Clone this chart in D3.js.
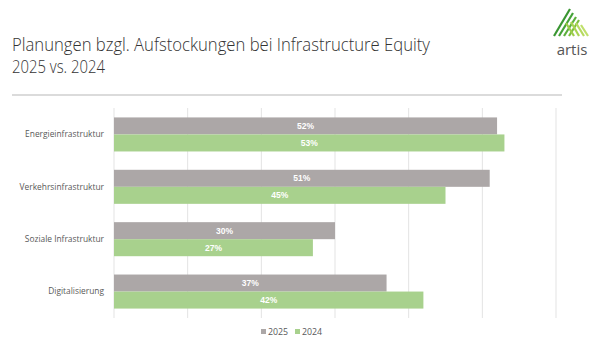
<!DOCTYPE html>
<html><head><meta charset="utf-8">
<script src="https://cdn.jsdelivr.net/npm/d3@7"></script>
<style>body{margin:0;background:#fff}svg{display:block}</style>
</head><body>
<svg id="c" width="605" height="345"></svg>
<script>
const titleLines = ["Planungen bzgl. Aufstockungen bei Infrastructure Equity", "2025 vs. 2024"];
const categories = ["Energieinfrastruktur", "Verkehrsinfrastruktur", "Soziale Infrastruktur", "Digitalisierung"];
const seriesNames = ["2025", "2024"];
const values2025 = [0.52, 0.51, 0.30, 0.37];
const values2024 = [0.53, 0.45, 0.27, 0.42];
const xTicks = [0, 0.1, 0.2, 0.3, 0.4, 0.5, 0.6];
const colors = ["#aca7a7", "#a8d18d"];

const svg = d3.select("#c");
const rows = categories.map((c, i) => ({cat: c, vals: [values2025[i], values2024[i]]}));

// Title
const tt = svg.append("g").attr("font-family", "'Open Sans', sans-serif").attr("font-weight", 300)
  .attr("fill", "#333").attr("font-size", 17.5);
tt.append("text").attr("x", 12).attr("y", 51).text(titleLines[0])
  .attr("textLength", 418).attr("lengthAdjust", "spacingAndGlyphs");
tt.append("text").attr("x", 12).attr("y", 73).text(titleLines[1])
  .attr("textLength", 93).attr("lengthAdjust", "spacingAndGlyphs");

svg.append("line").attr("x1", 12).attr("x2", 562).attr("y1", 95).attr("y2", 95)
  .attr("stroke", "#cfcfcf").attr("stroke-width", 1.6);

// Logo
const logo = svg.append("g");
const stripes = [
  [[554, 36], [570, 9], "#3a9632"],
  [[559, 36], [573, 13], "#45a238"],
  [[564, 36], [576, 17], "#5cb03c"],
  [[569, 36], [579, 20], "#7bbf3f"],
  [[574, 36], [566, 23], "#9ccd4a"],
  [[579, 36], [571, 22], "#a9d452"],
  [[584, 36], [576, 23], "#b5da5e"],
  [[588, 36], [581, 25], "#bfe06a"]
];
stripes.forEach(s => logo.append("line").attr("x1", s[0][0]).attr("y1", s[0][1])
  .attr("x2", s[1][0]).attr("y2", s[1][1]).attr("stroke", s[2]).attr("stroke-width", 2.2));
logo.append("text").attr("x", 572).attr("y", 55).attr("text-anchor", "middle")
  .attr("font-family", "'Open Sans', sans-serif").attr("font-size", 15).attr("fill", "#555")
  .text("artis");

// Scales
const x = d3.scaleLinear().domain([0, 0.6]).range([114, 556]);
const y = d3.scaleBand().domain(categories).range([108, 318]).paddingInner(0.35).paddingOuter(0.18);
const ys = d3.scaleBand().domain(seriesNames).range([0, y.bandwidth()]);

// Gridlines
svg.append("g").selectAll("line").data(xTicks).join("line")
  .attr("x1", d => x(d)).attr("x2", d => x(d)).attr("y1", 108).attr("y2", 318)
  .attr("stroke", "#e3e3e3").attr("stroke-width", 1);

// Category labels
svg.append("g").selectAll("text").data(categories).join("text")
  .attr("x", 104).attr("y", d => y(d) + y.bandwidth() / 2).attr("dy", "0.35em")
  .attr("text-anchor", "end").attr("font-family", "'Open Sans', sans-serif")
  .attr("font-size", 8.4).attr("fill", "#595959").text(d => d);

// Bars
const g = svg.append("g").selectAll("g").data(rows).join("g")
  .attr("transform", d => `translate(0,${y(d.cat)})`);
g.selectAll("rect").data(d => d.vals.map((v, i) => ({v, s: seriesNames[i], i}))).join("rect")
  .attr("x", x(0)).attr("y", d => ys(d.s)).attr("height", ys.bandwidth())
  .attr("width", d => x(d.v) - x(0)).attr("fill", d => colors[d.i]);
g.selectAll("text").data(d => d.vals.map((v, i) => ({v, s: seriesNames[i], i}))).join("text")
  .attr("x", d => (x(0) + x(d.v)) / 2).attr("y", d => ys(d.s) + ys.bandwidth() / 2).attr("dy", "0.36em")
  .attr("text-anchor", "middle").attr("font-family", "'Liberation Sans', Arial, sans-serif")
  .attr("font-weight", "bold").attr("font-size", 8.5).attr("fill", "#fff")
  .text(d => d3.format(".0%")(d.v));

// Legend
const lg = svg.append("g").attr("font-family", "'Open Sans', sans-serif").attr("font-size", 8.8).attr("fill", "#595959");
const lx = [261, 295];
seriesNames.forEach((s, i) => {
  lg.append("rect").attr("x", lx[i]).attr("y", 329).attr("width", 5).attr("height", 5).attr("fill", colors[i]);
  lg.append("text").attr("x", lx[i] + 7).attr("y", 331.5).attr("dy", "0.35em").text(s);
});
</script>
</body></html>
